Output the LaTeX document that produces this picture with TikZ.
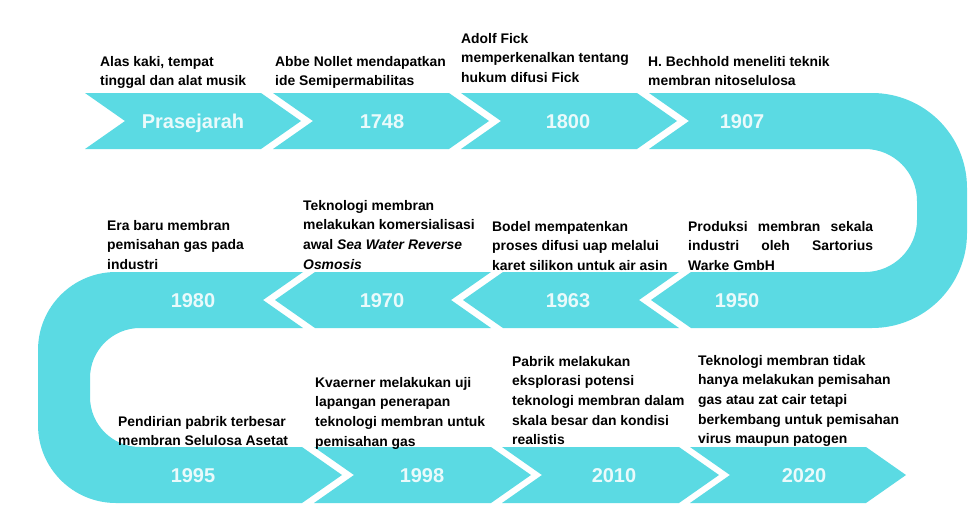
\documentclass[tikz,border=0pt]{standalone}
\usepackage{fontspec}
\setmainfont{Liberation Sans}
\definecolor{bandcyan}{RGB}{91,218,227}
\definecolor{yeartxt}{RGB}{234,250,251}
\begin{document}
\begin{tikzpicture}[x=1pt,y=-1pt,
  band/.style={fill=bandcyan},
  yearlbl/.style={anchor=base, inner sep=0pt, text=yeartxt,
    font=\fontsize{20}{24}\selectfont\bfseries},
  note/.style={anchor=north west, inner sep=0pt, align=left,
    font=\fontsize{13.9}{19.6}\selectfont\bfseries}]
\useasboundingbox (0,0) rectangle (970,512);
\fill[white] (0,0) rectangle (970,512);

% ---- top row: chevrons pointing right ----
\fill[band] (85,93) -- (261,93) -- (301,121) -- (261,149) -- (85,149) -- (125,121) -- cycle;
\fill[band] (273,93) -- (449,93) -- (489,121) -- (449,149) -- (273,149) -- (313,121) -- cycle;
\fill[band] (461,93) -- (637,93) -- (677,121) -- (637,149) -- (461,149) -- (501,121) -- cycle;
% 1907 band turning down into 1950
\fill[band] (649,93) -- (872,93) .. controls (924.5,93) and (967,135.5) .. (967,188)
  -- (967,233) .. controls (967,285.5) and (924.5,328) .. (872,328)
  -- (691,328) -- (651,300) -- (691,272) -- (865,272)
  .. controls (893.7,272) and (917,248.7) .. (917,220)
  -- (917,201) .. controls (917,172.3) and (893.7,149) .. (865,149)
  -- (649,149) -- (689,121) -- cycle;

% ---- middle row: chevrons pointing left ----
\fill[band] (503,272) -- (679,272) -- (639,300) -- (679,328) -- (503,328) -- (463,300) -- cycle;
\fill[band] (315,272) -- (491,272) -- (451,300) -- (491,328) -- (315,328) -- (275,300) -- cycle;
% 1980 band turning down into 1995
\fill[band] (303,272) -- (263,300) -- (303,328) -- (140,328)
  .. controls (112.4,328) and (90,350.4) .. (90,378)
  -- (90,397) .. controls (90,424.6) and (112.4,447) .. (140,447)
  -- (302,447) -- (342,475) -- (302,503) -- (116,503)
  .. controls (72.9,503) and (38,468.1) .. (38,425)
  -- (38,350) .. controls (38,306.9) and (72.9,272) .. (116,272) -- cycle;

% ---- bottom row: chevrons pointing right ----
\fill[band] (314,447) -- (491,447) -- (531,475) -- (491,503) -- (314,503) -- (354,475) -- cycle;
\fill[band] (502,447) -- (679,447) -- (719,475) -- (679,503) -- (502,503) -- (542,475) -- cycle;
\fill[band] (690,447) -- (866,447) -- (906,475) -- (866,503) -- (690,503) -- (730,475) -- cycle;

% ---- years ----
\node[yearlbl] (yPre)  at (193,128.5) {Prasejarah};
\node[yearlbl] (y1748) at (382,128.5) {1748};
\node[yearlbl] (y1800) at (568,128.5) {1800};
\node[yearlbl] (y1907) at (742,128.5) {1907};
\node[yearlbl] (y1980) at (193,307.5) {1980};
\node[yearlbl] (y1970) at (382,307.5) {1970};
\node[yearlbl] (y1963) at (568,307.5) {1963};
\node[yearlbl] (y1950) at (737,307.5) {1950};
\node[yearlbl] (y1995) at (193,482.5) {1995};
\node[yearlbl] (y1998) at (422,482.5) {1998};
\node[yearlbl] (y2010) at (614,482.5) {2010};
\node[yearlbl] (y2020) at (804,482.5) {2020};

% ---- descriptions ----
\node[note] (dPre)  at (100,56) {Alas kaki, tempat\\tinggal dan alat musik};
\node[note] (d1748) at (275,56) {Abbe Nollet mendapatkan\\ide Semipermabilitas};
\node[note] (d1800) at (461,33) {Adolf Fick\\memperkenalkan tentang\\hukum difusi Fick};
\node[note] (d1907) at (648,56) {H. Bechhold meneliti teknik\\membran nitoselulosa};

\node[note] (d1980) at (107,220) {Era baru membran\\pemisahan gas pada\\industri};
\node[note] (d1970) at (303,200) {Teknologi membran\\melakukan komersialisasi\\awal \textit{Sea Water Reverse}\\\textit{Osmosis}};
\node[note] (d1963) at (492,221) {Bodel mempatenkan\\proses difusi uap melalui\\karet silikon untuk air asin};
\node[note] (d1950) at (688,221) {\makebox[185pt][s]{Produksi membran sekala}\\\makebox[185pt][s]{industri oleh Sartorius}\\Warke GmbH};

\node[note] (d1995) at (118,416) {Pendirian pabrik terbesar\\membran Selulosa Asetat};
\node[note] (d1998) at (315,377) {Kvaerner melakukan uji\\lapangan penerapan\\teknologi membran untuk\\pemisahan gas};
\node[note] (d2010) at (512,356) {Pabrik melakukan\\eksplorasi potensi\\teknologi membran dalam\\skala besar dan kondisi\\realistis};
\node[note] (d2020) at (698,355) {Teknologi membran tidak\\hanya melakukan pemisahan\\gas atau zat cair tetapi\\berkembang untuk pemisahan\\virus maupun patogen};
\end{tikzpicture}
\end{document}
